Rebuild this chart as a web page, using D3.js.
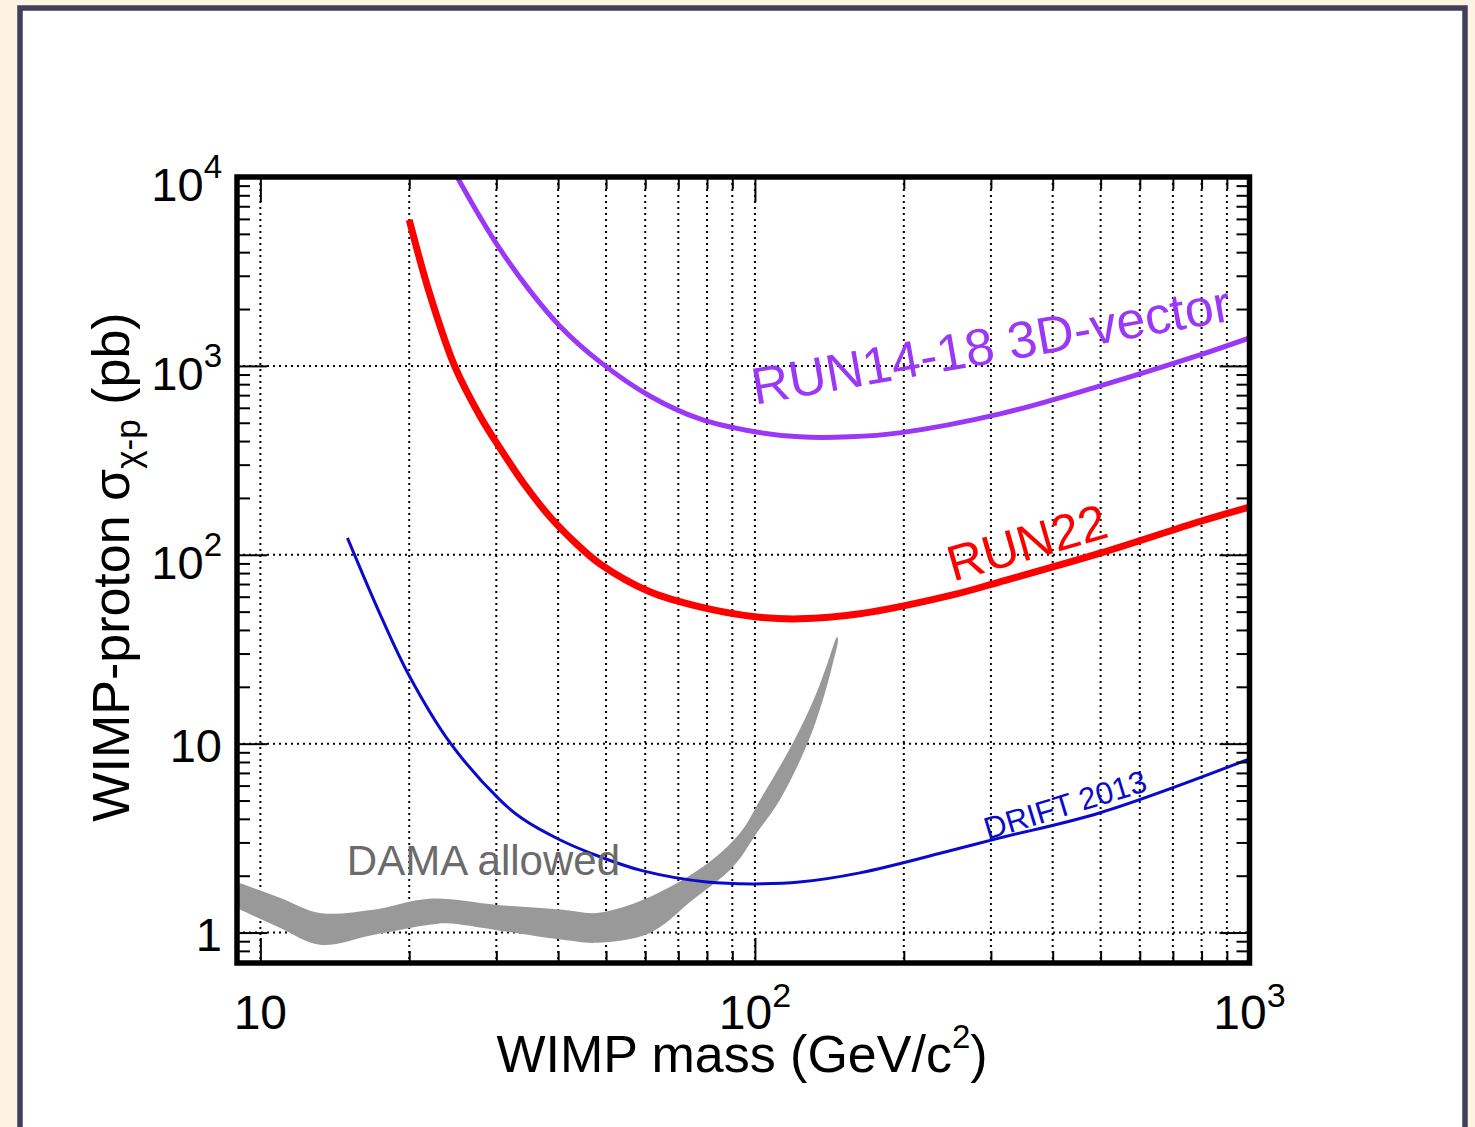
<!DOCTYPE html>
<html>
<head>
<meta charset="utf-8">
<script src="https://cdn.jsdelivr.net/npm/d3@7"></script>
<style>
  html, body { margin: 0; padding: 0; background: #fdf3e2; }
  svg { display: block; }
  text { font-family: "Liberation Sans", Arial, Helvetica, sans-serif; }
</style>
</head>
<body>
<svg id="chart" width="1475" height="1127"></svg>
<script>
// RUN14-18 3D-vector limit
const purpleMass  = [25, 27.8, 30.5, 35.1, 40.3, 48.6, 61.3, 77.4, 100, 123, 155.6, 196, 313, 499, 794, 1000];
const purpleSigma = [10000, 6150, 4160, 2495, 1628, 1050, 693, 524, 448, 421, 421, 442, 557, 784, 1143, 1406];

// RUN22 limit
const redMass  = [20, 22.0, 24.7, 27.8, 30.5, 34.27, 38.5, 43.3, 48.6, 61.3, 77.4, 100, 123, 163, 251, 313, 499, 794, 1000];
const redSigma = [5930, 2405, 1000, 543, 368, 234, 159, 116, 89.5, 63.7, 53.0, 47.0, 45.8, 48.7, 61.3, 71.9, 102, 150, 179];

// DRIFT 2013 limit
const blueMass  = [15, 17.45, 20.0, 24.2, 30.5, 33.9, 40.3, 48.6, 59.4, 80.0, 99.1, 123, 163, 248, 313, 499, 1000];
const blueSigma = [123, 48.7, 22.9, 10.1, 5.04, 4.0, 3.10, 2.52, 2.12, 1.85, 1.81, 1.85, 2.07, 2.71, 3.17, 4.31, 8.31];

// DAMA allowed band edges
const damaUpperMass  = [8.5, 8.97, 10.95, 13.2, 16.9, 22.0, 30.1, 40.9, 47.9, 59.4, 78.5, 93.3, 102.4, 119.4, 132.2, 140.5, 146.6];
const damaUpperSigma = [1.95, 1.85, 1.53, 1.27, 1.32, 1.51, 1.40, 1.32, 1.27, 1.49, 2.23, 3.37, 5.04, 10.1, 17.7, 27.1, 36.8];
const damaLowerMass  = [8.5, 8.97, 10.95, 13.2, 16.9, 22.0, 23.8, 30.1, 40.9, 47.9, 61.3, 74.9, 90.3, 100.9, 112.3, 127.9, 137.2, 143.1, 147.2];
const damaLowerSigma = [1.45, 1.35, 1.06, 0.861, 0.972, 1.10, 1.12, 1.03, 0.915, 0.883, 0.996, 1.49, 2.23, 3.37, 5.04, 10.1, 17.1, 25.5, 35.4];

// ticks
const xMajor = [10, 100, 1000];
const xMajorBase = ["10", "10", "10"];
const xMajorExp = ["", "2", "3"];
const xMinor = [20, 30, 40, 50, 60, 70, 80, 90, 200, 300, 400, 500, 600, 700, 800, 900];
const yMajor = [1, 10, 100, 1000, 10000];
const yMajorBase = ["1", "10", "10", "10", "10"];
const yMajorExp = ["", "", "2", "3", "4"];
const yMinor = [0.7, 0.8, 0.9, 2, 3, 4, 5, 6, 7, 8, 9, 20, 30, 40, 50, 60, 70, 80, 90,
                200, 300, 400, 500, 600, 700, 800, 900, 2000, 3000, 4000, 5000, 6000, 7000, 8000, 9000];

// curve labels, anchored at (mass, sigma)
const labelText = ["RUN14-18 3D-vector", "RUN22", "DRIFT 2013", "DAMA allowed"];
const labelMass = [100, 251.4, 295.8, 14.96];
const labelSigma = [622, 71.9, 3.10, 2.02];

const plotL = 237, plotR = 1249.5, plotT = 177, plotB = 963;

const svg = d3.select("#chart");

// page frame
svg.append("rect")
    .attr("x", 20).attr("y", 8)
    .attr("width", 1445).attr("height", 1140)
    .attr("fill", "#ffffff")
    .attr("stroke", "#40405a")
    .attr("stroke-width", 5.5);

const x = d3.scaleLog().domain([8.97, 1000]).range([plotL, plotR]);
const y = d3.scaleLog().domain([0.69, 10000]).range([plotB, plotT]);

svg.append("clipPath").attr("id", "plotClip")
    .append("rect")
    .attr("x", plotL).attr("y", plotT)
    .attr("width", plotR - plotL).attr("height", plotB - plotT);

// dotted grid
const grid = svg.append("g");
grid.selectAll("line.vx")
    .data(xMajor.concat(xMinor))
    .enter().append("line")
    .attr("x1", d => x(d)).attr("x2", d => x(d))
    .attr("y1", plotT).attr("y2", plotB)
    .attr("stroke", "#000")
    .attr("stroke-width", 2)
    .attr("stroke-dasharray", "2,4");
grid.selectAll("line.hy")
    .data(yMajor)
    .enter().append("line")
    .attr("x1", plotL).attr("x2", plotR)
    .attr("y1", d => y(d)).attr("y2", d => y(d))
    .attr("stroke", "#000")
    .attr("stroke-width", 2)
    .attr("stroke-dasharray", "2,4");

const plot = svg.append("g").attr("clip-path", "url(#plotClip)");

// DAMA band
const damaPts = damaUpperMass.map((m, i) => [m, damaUpperSigma[i]])
    .concat(damaLowerMass.map((m, i) => [m, damaLowerSigma[i]]).reverse());
plot.append("path")
    .attr("d", d3.line().x(d => x(d[0])).y(d => y(d[1])).curve(d3.curveCatmullRomClosed)(damaPts))
    .attr("fill", "#999999")
    .attr("stroke", "none");

function curve(mass, sigma, color, width) {
    const pts = mass.map((m, i) => [m, sigma[i]]);
    plot.append("path")
        .attr("d", d3.line().x(d => x(d[0])).y(d => y(d[1])).curve(d3.curveCatmullRom.alpha(0.5))(pts))
        .attr("fill", "none")
        .attr("stroke", color)
        .attr("stroke-width", width)
        .attr("stroke-linecap", "butt");
}
curve(blueMass, blueSigma, "#0a0acc", 3);
curve(purpleMass, purpleSigma, "#9b38f6", 5);
curve(redMass, redSigma, "#ff0000", 7);

// curve labels
const labelColor = ["#9b38f6", "#ff0000", "#0a0acc", "#6b6b6b"];
const labelSize = [52, 50, 31, 42];
const labelAngle = [-10, -16, -17, 0];
svg.selectAll("text.lbl")
    .data(labelText)
    .enter().append("text")
    .attr("transform", (d, i) => `translate(${x(labelMass[i])},${y(labelSigma[i])}) rotate(${labelAngle[i]})`)
    .attr("fill", (d, i) => labelColor[i])
    .style("font-size", (d, i) => labelSize[i] + "px")
    .text(d => d);

// inward ticks
function ticks(axis, tx, ty, vals, size) {
    const g = svg.append("g")
        .attr("transform", `translate(${tx},${ty})`)
        .call(axis.tickValues(vals).tickSize(size).tickFormat(""));
    g.select(".domain").remove();
    g.selectAll(".tick line").attr("stroke", "#000").attr("stroke-width", 2);
}
ticks(d3.axisRight(y), plotL, 0, yMinor, 13);
ticks(d3.axisRight(y), plotL, 0, yMajor, 30);
ticks(d3.axisLeft(y), plotR, 0, yMinor, 13);
ticks(d3.axisLeft(y), plotR, 0, yMajor, 30);
ticks(d3.axisTop(x), 0, plotB, xMinor, 12);
ticks(d3.axisTop(x), 0, plotB, xMajor, 25);
ticks(d3.axisBottom(x), 0, plotT, xMinor, 12);
ticks(d3.axisBottom(x), 0, plotT, xMajor, 25);

// frame
svg.append("rect")
    .attr("x", plotL).attr("y", plotT)
    .attr("width", plotR - plotL).attr("height", plotB - plotT)
    .attr("fill", "none")
    .attr("stroke", "#000")
    .attr("stroke-width", 5.5);

// tick labels
const xl = svg.selectAll("text.xt")
    .data(xMajor)
    .enter().append("text")
    .attr("x", d => x(d))
    .attr("y", 1029)
    .attr("text-anchor", "middle")
    .style("font-size", "48px")
    .text((d, i) => xMajorBase[i]);
xl.filter((d, i) => xMajorExp[i] !== "")
    .append("tspan")
    .attr("dy", -22)
    .style("font-size", "34px")
    .text(d => xMajorExp[xMajor.indexOf(d)]);

const yl = svg.selectAll("text.yt")
    .data(yMajor)
    .enter().append("text")
    .attr("x", 222)
    .attr("y", (d, i) => y(d) + (yMajorExp[i] ? 24 : 18))
    .attr("text-anchor", "end")
    .style("font-size", "47px")
    .text((d, i) => yMajorBase[i]);
yl.filter((d, i) => yMajorExp[i] !== "")
    .append("tspan")
    .attr("dy", -23)
    .style("font-size", "33px")
    .text(d => yMajorExp[yMajor.indexOf(d)]);

// axis titles
const xt = svg.append("text")
    .attr("x", 742).attr("y", 1072)
    .attr("text-anchor", "middle")
    .style("font-size", "52px")
    .text("WIMP mass (GeV/c");
xt.append("tspan").attr("dy", -24).style("font-size", "33px").text("2");
xt.append("tspan").attr("dy", 24).text(")");

const yt = svg.append("text")
    .attr("transform", "translate(129,567) rotate(-90)")
    .attr("text-anchor", "middle")
    .style("font-size", "52px")
    .text("WIMP-proton σ");
yt.append("tspan").attr("dy", 11).style("font-size", "35px").text("χ-p");
yt.append("tspan").attr("dy", -11).text(" (pb)");
</script>
</body>
</html>
